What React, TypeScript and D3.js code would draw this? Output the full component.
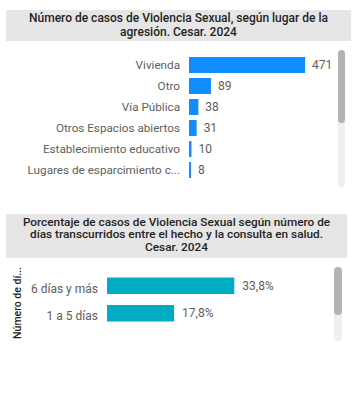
import React from "react";
import * as d3 from "d3";

const lugares = ["Vivienda", "Otro", "Vía Pública", "Otros Espacios abiertos", "Establecimiento educativo", "Lugares de esparcimiento c..."];
const casos = [471, 89, 38, 31, 10, 8];

const dias = ["6 días y más", "1 a 5 días"];
const porcentajes = [33.8, 17.8];

const title1 = ["Número de casos de Violencia Sexual, según lugar de la", "agresión. Cesar. 2024"];
const title2 = ["Porcentaje de casos de Violencia Sexual según número de", "días transcurridos entre el hecho y la consulta en salud.", "Cesar. 2024"];

const FONT = "Roboto, 'Open Sans', sans-serif";

export default function App() {
  const x1 = d3.scaleLinear().domain([0, 471]).range([189, 305]);
  const y1 = d3.scaleBand<string>().domain(lugares).range([54.5, 180.5]).paddingInner(0.24).paddingOuter(0.12);

  const x2 = d3.scaleLinear().domain([0, 33.8]).range([107, 234.3]);
  const y2 = d3.scaleBand<string>().domain(dias).range([272, 327]).paddingInner(0.4).paddingOuter(0.2);

  return (
    <svg width={356} height={394} style={{ position: "absolute", left: 0, top: 0 }} fontFamily={FONT}>
      <rect x={0} y={0} width={356} height={394} fill="#fff" />
      {/* Panel 1 */}
      <rect x={6} y={10} width={345} height={31} fill="#e6e6e6" />
      {title1.map((t, i) => (
        <text key={i} x={178.5} y={21.5 + i * 14} textAnchor="middle" fontSize={12} fontWeight={500} fill="#252423">{t}</text>
      ))}
      {lugares.map((c, i) => {
        const y = y1(c)!;
        const h = y1.bandwidth();
        return (
          <g key={c}>
            <rect x={x1(0)} y={y} width={x1(casos[i]) - x1(0)} height={h} fill="#118DFF" />
            <text x={180} y={y + h / 2} dy="0.35em" textAnchor="end" fontSize={11.7} fill="#605E5C">{c}</text>
            <text x={x1(casos[i]) + 7} y={y + h / 2} dy="0.35em" fontSize={12} fill="#605E5C">{casos[i]}</text>
          </g>
        );
      })}
      <rect x={338} y={50} width={7} height={137} rx={3.5} fill="#efefef" />
      <rect x={338} y={50} width={7} height={73} rx={3.5} fill="#b3b3b3" />

      {/* Panel 2 */}
      <rect x={6} y={214} width={341} height={44} fill="#e6e6e6" />
      {title2.map((t, i) => (
        <text key={i} x={176.5} y={225.5 + i * 12.7} textAnchor="middle" fontSize={11.8} fontWeight={500} fill="#252423">{t}</text>
      ))}
      <text transform="translate(17,303) rotate(-90)" textAnchor="middle" dy="0.35em" fontSize={10.5} fontWeight={500} fill="#252423">Número de dí...</text>
      {dias.map((c, i) => {
        const y = y2(c)!;
        const h = y2.bandwidth();
        return (
          <g key={c}>
            <rect x={x2(0)} y={y} width={x2(porcentajes[i]) - x2(0)} height={h} fill="#00ACC1" />
            <text x={98} y={y + h / 2 + 3} dy="0.35em" textAnchor="end" fontSize={12} fill="#605E5C">{c}</text>
            <text x={x2(porcentajes[i]) + 8} y={y + h / 2} dy="0.35em" fontSize={12} fill="#605E5C">{porcentajes[i].toFixed(1).replace(".", ",")}%</text>
          </g>
        );
      })}
      <rect x={334} y={267} width={8} height={74} rx={4} fill="#efefef" />
      <rect x={334} y={267} width={8} height={48} rx={4} fill="#b3b3b3" />
    </svg>
  );
}
